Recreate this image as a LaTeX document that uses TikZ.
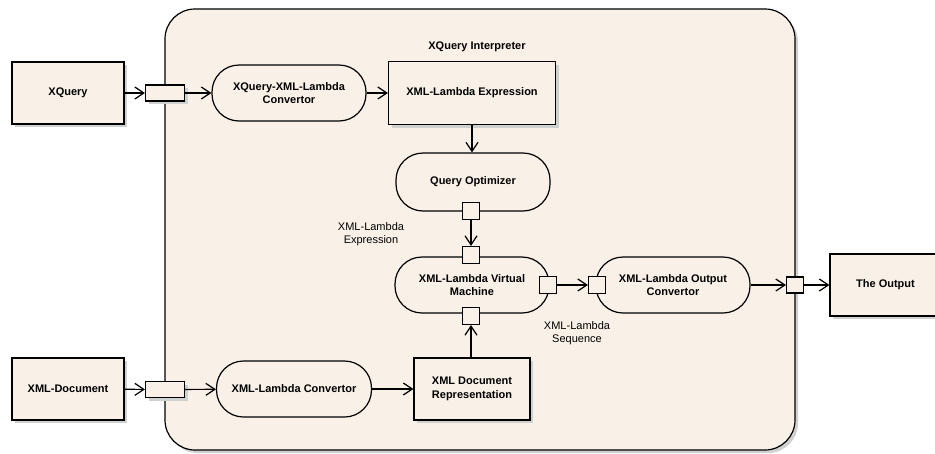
\documentclass[tikz,border=0pt]{standalone}
\usepackage{fontspec}
\setmainfont{Liberation Sans}
\usepackage{tikz}
\usetikzlibrary{arrows.meta,shadows,positioning}
\definecolor{paper}{RGB}{249,241,231}
\definecolor{shade}{RGB}{208,208,208}
\tikzstyle{flow} = [line width=1.2pt,-{Straight Barb[length=9pt,width=12pt]}]
\tikzstyle{boxline} = [draw, line width=1.2pt, fill=paper, inner sep=0pt, align=center, font=\bfseries\fontsize{11}{13.5}\selectfont]
\tikzstyle{shadowed} = [drop shadow={shadow xshift=3pt,shadow yshift=-3pt,opacity=1,fill=shade}]
\tikzstyle{block} = [boxline, shadowed]
\tikzstyle{activity} = [boxline, rounded corners=27pt, minimum width=154pt, minimum height=56pt]
\tikzstyle{portbox} = [boxline, minimum width=17pt, minimum height=17pt]
\tikzstyle{inport} = [boxline, shadowed, minimum width=39pt, minimum height=16pt]
\tikzstyle{note} = [font=\fontsize{11}{12.5}\selectfont, align=center]

\begin{document}
\begin{tikzpicture}[x=1pt,y=-1pt]
\useasboundingbox (0,0) rectangle (935,453);

% the interpreter frame
\node [block, rounded corners=30pt, minimum width=630pt, minimum height=441pt] (interp) at (480,229.5) {};
\node [font=\bfseries\fontsize{11}{13.5}\selectfont] (title) at (477,47) {XQuery Interpreter};

% outside
\node [block, minimum width=112pt, minimum height=62pt] (xq) at (68,93) {XQuery};
\node [block, minimum width=112pt, minimum height=62pt] (xd) at (68,389) {XML-Document};
\node [block, minimum width=111pt, minimum height=62pt] (out) at (885.5,285) {The Output};

% inside
\node [activity] (xqconv) at (289,93) {XQuery-XML-Lambda\\Convertor};
\node [block, minimum width=167pt, minimum height=63pt] (lexpr) at (472,93) {XML-Lambda Expression};
\node [activity, minimum height=58pt] (qopt) at (473,182) {Query Optimizer};
\node [activity] (vm) at (472,285) {XML-Lambda Virtual\\Machine};
\node [activity] (oc) at (673,285) {XML-Lambda Output\\Convertor};
\node [activity, minimum width=155pt] (xdconv) at (294,389) {XML-Lambda Convertor};
\node [block, minimum width=116pt, minimum height=62pt] (rep) at (472,389) {XML Document\\Representation};

% ports
\node [inport] (xqport) at (165,93) {};
\node [inport] (xdport) at (165,389.5) {};
\node [portbox] (qoptport) at (471,211) {};
\node [portbox] (vmin) at (471,255) {};
\node [portbox] (vmdoc) at (471,316) {};
\node [portbox] (vmout) at (548,285) {};
\node [portbox] (ocin) at (597,285) {};
\node [portbox, minimum height=16pt] (outport) at (795,285) {};

\node [note] (exprnote) at (371,234) {XML-Lambda\\Expression};
\node [note] (seqnote) at (577,333) {XML-Lambda\\Sequence};

\draw [flow] (xq) -- (xqport);
\draw [flow] (xqport) -- (xqconv);
\draw [flow] (xqconv) -- (lexpr);
\draw [flow] (lexpr.south) -- (lexpr.south |- qopt.north);
\draw [flow] (qoptport) -- (vmin);
\draw [flow] (xd) -- (xdport);
\draw [flow] (xdport) -- (xdconv);
\draw [flow] (xdconv) -- (rep);
\draw [flow] (rep.north -| vmdoc) -- (vmdoc);
\draw [flow] (vmout) -- (ocin);
\draw [flow] (oc) -- (outport);
\draw [flow] (outport) -- (out);
\end{tikzpicture}
\end{document}
